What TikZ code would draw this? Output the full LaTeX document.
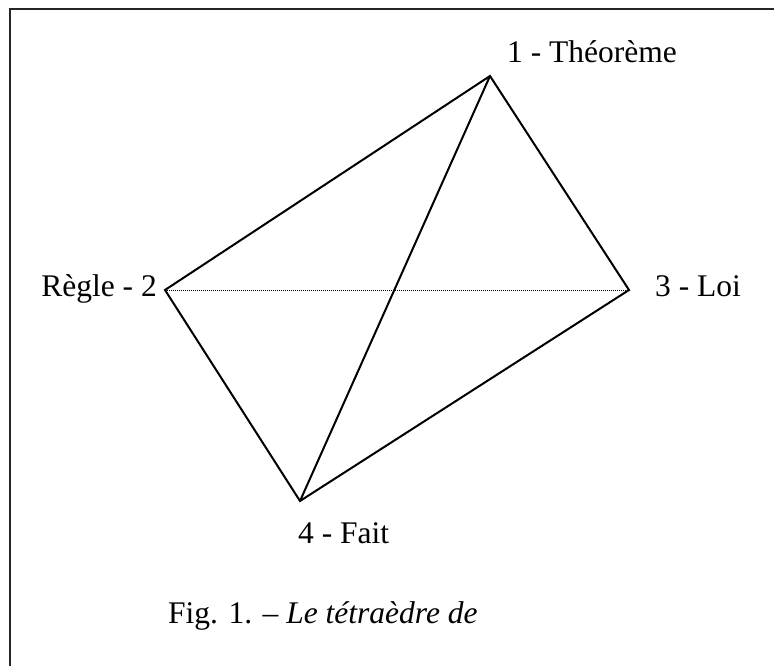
\documentclass[tikz,border=0pt]{standalone}
\usepackage{fontspec}
\setmainfont{Liberation Serif}
\begin{document}
\begin{tikzpicture}[x=1pt,y=-1pt,
  edge/.style={line width=2pt,black},
  hidden/.style={line width=1pt,black,dash pattern=on 1pt off 1pt},
  lbl/.style={anchor=base west,inner sep=0pt,font=\fontsize{31.5}{37}\selectfont},
  frame/.style={line width=2.2pt,black!85}]
\useasboundingbox (0,0) rectangle (774,666);
\draw[frame] (10,666) -- (10,9) -- (774,9);
\coordinate (v1) at (490,76);
\coordinate (v2) at (165,290);
\coordinate (v3) at (629,290);
\coordinate (v4) at (300,501);
\draw[hidden] (v2) -- (v3);
\draw[edge,line join=miter] (v1) -- (v2) -- (v4) -- (v3) -- cycle;
\draw[edge] (v1) -- (v4);
\node[lbl] (l1) at (507,63) {1 - Théorème};
\node[lbl,anchor=base east] (l2) at (157,296) {Règle - 2};
\node[lbl] (l3) at (655,296) {3 - Loi};
\node[lbl] (l4) at (298,543) {4 - Fait};
\node[lbl] (cap) at (168,623) {Fig. 1. – \textit{Le tétraèdre de}};
\end{tikzpicture}
\end{document}
